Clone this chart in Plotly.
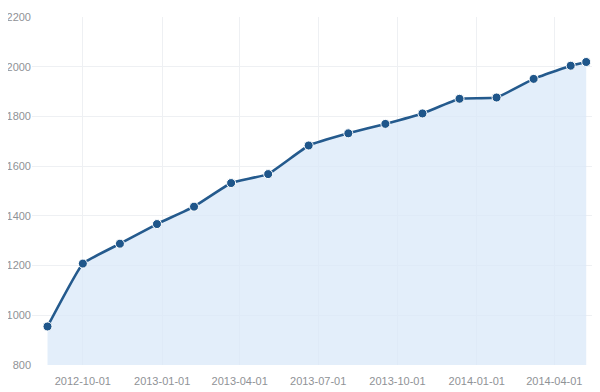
import plotly.graph_objects as go

dates = ["2012-08-21", "2012-10-01", "2012-11-13", "2012-12-26", "2013-02-07",
         "2013-03-22", "2013-05-04", "2013-06-20", "2013-08-05", "2013-09-17",
         "2013-10-30", "2013-12-12", "2014-01-24", "2014-03-08", "2014-04-20",
         "2014-05-08"]
values = [955, 1208, 1288, 1367, 1437, 1532, 1568, 1683, 1732, 1770,
          1812, 1871, 1876, 1951, 2004, 2019]
x_ticks = ["2012-10-01", "2013-01-01", "2013-04-01", "2013-07-01",
           "2013-10-01", "2014-01-01", "2014-04-01"]
y_ticks = [800, 1000, 1200, 1400, 1600, 1800, 2000, 2200]

fig = go.Figure()
fig.add_trace(go.Scatter(
    x=dates, y=values, mode="lines+markers",
    fill="tozeroy", fillcolor="rgba(218,232,248,0.75)",
    line=dict(color="#245a8d", width=2.6, shape="spline", smoothing=0.3),
    marker=dict(size=9, color="#1f568a", line=dict(color="white", width=1)),
    hoverinfo="skip",
))

fig.update_layout(
    width=592, height=384,
    margin=dict(l=24, r=0, t=9, b=27),
    paper_bgcolor="white", plot_bgcolor="white",
    showlegend=False,
    font=dict(family="Liberation Sans, Arial, sans-serif", size=11, color="#8f9296"),
)
fig.update_xaxes(
    type="date", range=["2012-08-03", "2014-05-24"],
    tickvals=x_ticks, ticktext=x_ticks,
    showgrid=True, gridcolor="#eef0f3", gridwidth=1,
    zeroline=False, showline=False,
    ticks="outside", ticklen=6, tickcolor="rgba(0,0,0,0)",
)
fig.update_yaxes(
    range=[800, 2200], tickvals=y_ticks,
    showgrid=True, gridcolor="#eef0f3", gridwidth=1,
    zeroline=False, showline=False, ticks="",
)

fig.write_html("out.html")
